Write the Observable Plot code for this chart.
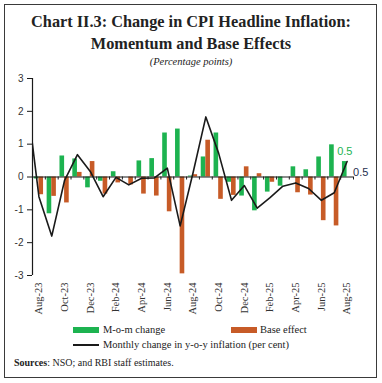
<!DOCTYPE html>
<html>
<head>
<meta charset="utf-8">
<script src="https://cdn.jsdelivr.net/npm/d3@7"></script>
<script src="https://cdn.jsdelivr.net/npm/@observablehq/plot@0.6"></script>
<style>
  body { margin: 0; background: #fff; }
  #wrap { position: relative; width: 382px; height: 383px; overflow: hidden; font-family: "Liberation Serif", serif; color: #222; }
  #frame { position: absolute; left: 4px; top: 4px; width: 371px; height: 372px; border: 1.5px solid #3a3a3a; }
  #title { position: absolute; left: 0; top: 11px; width: 382px; text-align: center; font-weight: bold; font-size: 16.3px; line-height: 22px; color: #222; }
  #subtitle { position: absolute; left: 0; top: 56px; width: 382px; text-align: center; font-style: italic; font-size: 10.5px; color: #222; }
  #chart { position: absolute; left: 0; top: 70px; }
  .leg { position: absolute; font-size: 10.5px; line-height: 12px; white-space: nowrap; color: #222; }
  .sw { position: absolute; }
  #src { position: absolute; left: 14px; top: 357px; font-size: 10px; white-space: nowrap; }
</style>
</head>
<body>
<div id="wrap">
  <div id="frame"></div>
  <div id="title">Chart II.3: Change in CPI Headline Inflation:<br>Momentum and Base Effects</div>
  <div id="subtitle">(Percentage points)</div>
  <div id="chart"></div>
  <div class="sw" style="left:73px;top:327px;width:26px;height:6px;background:#1db350"></div>
  <div class="leg" style="left:103px;top:324px">M-o-m change</div>
  <div class="sw" style="left:231px;top:327px;width:26px;height:6px;background:#c75b27"></div>
  <div class="leg" style="left:260px;top:324px">Base effect</div>
  <div class="sw" style="left:73px;top:344px;width:26px;height:2px;background:#1a1a1a"></div>
  <div class="leg" style="left:103px;top:339px">Monthly change in y-o-y inflation (per cent)</div>
  <div id="src"><b>Sources</b>: NSO; and RBI staff estimates.</div>
</div>
<script>
const months = ["Aug-23","Sep-23","Oct-23","Nov-23","Dec-23","Jan-24","Feb-24","Mar-24","Apr-24","May-24","Jun-24","Jul-24","Aug-24","Sep-24","Oct-24","Nov-24","Dec-24","Jan-25","Feb-25","Mar-25","Apr-25","May-25","Jun-25","Jul-25","Aug-25"];
const momChange = [-0.06,-1.12,0.64,0.55,-0.33,-0.13,0.16,0.0,0.49,0.56,1.34,1.46,0.03,0.61,1.34,-0.16,-0.58,-1.03,-0.46,-0.28,0.31,0.22,0.61,0.98,0.47];
const baseEffect = [-0.54,-0.59,-0.79,0.14,0.47,-0.52,-0.18,-0.24,-0.52,-0.58,-1.06,-2.95,0.07,1.12,-0.68,-0.56,0.31,0.10,-0.16,0.0,-0.48,-0.55,-1.33,-1.49,0.0];
const lineMonths = ["Jul-23", ...months];
const yoyChange = [2.57,-0.60,-1.80,-0.10,0.68,0.17,-0.60,-0.01,-0.24,-0.04,-0.03,0.27,-1.49,0.12,1.83,0.72,-0.71,-0.26,-0.95,-0.63,-0.28,-0.18,-0.35,-0.71,-0.48,0.47];
const yTicks = [-3,-2,-1,0,1,2,3];

const green = "#1db350", orange = "#c75b27";
const bars = months.map((m, i) => ({month: m, i, mom: momChange[i], base: baseEffect[i]}));
const lineData = lineMonths.map((m, k) => ({month: m, i: k - 1, v: yoyChange[k]}));
const boundaries = months.map((m, i) => i + 0.5);
const labelIdx = months.map((m, i) => i).filter(i => i % 2 === 0);
const last = bars[bars.length - 1];
const lastLine = lineData[lineData.length - 1];

const chart = Plot.plot({
  width: 382,
  height: 250,
  marginTop: 8,
  marginBottom: 45,
  marginLeft: 32,
  marginRight: 29,
  style: {fontFamily: "Liberation Serif, serif", fontSize: "10px", color: "#333", background: "transparent"},
  x: {type: "linear", domain: [-0.5, months.length - 0.5], label: null},
  y: {domain: [-3, 3], label: null},
  marks: [
    Plot.rectY(bars, {x1: d => d.i - 0.36, x2: d => d.i, y: "mom", fill: green}),
    Plot.rectY(bars, {x1: d => d.i, x2: d => d.i + 0.36, y: "base", fill: orange}),
    Plot.ruleY([0], {stroke: "#1a1a1a", strokeWidth: 1.2}),
    Plot.ruleX(boundaries, {x: d => d, y1: 0, y2: 0, insetBottom: -3, stroke: "#1a1a1a", strokeWidth: 1}),
    Plot.ruleX([-0.5], {stroke: "#1a1a1a", strokeWidth: 1.2}),
    Plot.line(lineData, {x: "i", y: "v", stroke: "#1a1a1a", strokeWidth: 1.6, clip: true}),
    Plot.axisY({ticks: yTicks, tickSize: 5, tickFormat: d => String(d), label: null, fontFamily: "Liberation Sans, sans-serif", fontSize: 10, tickPadding: 4, stroke: "#1a1a1a"}),
    Plot.axisX({ticks: labelIdx, tickFormat: i => months[i], label: null, tickRotate: -90, tickSize: 0, tickPadding: 7, anchor: "bottom", fontSize: 10.5}),
    Plot.text([last], {x: d => d.i - 0.18, y: "mom", text: d => d.mom.toFixed(1), dy: -10, fill: green, fontFamily: "Liberation Sans, sans-serif", fontSize: 11}),
    Plot.text([lastLine], {x: "i", y: "v", text: d => d.v.toFixed(1), dx: 6, dy: 11, textAnchor: "start", fill: "#1f2f4f", fontFamily: "Liberation Sans, sans-serif", fontSize: 11})
  ]
});
document.getElementById("chart").appendChild(chart);
</script>
</body>
</html>
